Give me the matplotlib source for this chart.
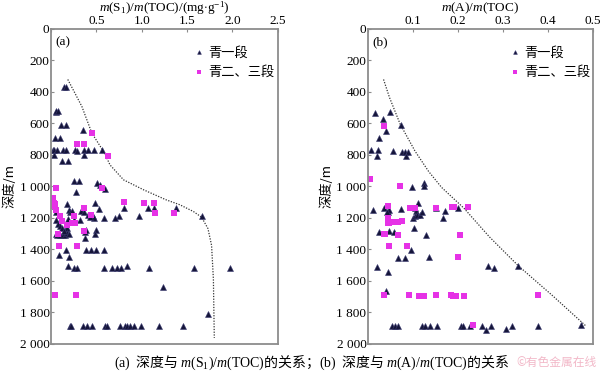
import numpy as np
import matplotlib
matplotlib.use('Agg')
import matplotlib.pyplot as plt

plt.rcParams['font.family'] = ['Liberation Serif', 'Noto Sans CJK SC']
plt.rcParams['mathtext.fontset'] = 'custom'
plt.rcParams['mathtext.rm'] = 'Liberation Serif'
plt.rcParams['mathtext.it'] = 'Liberation Serif:italic'

# (a) m(S1)/m(TOC) vs depth
a_tri_x = [0.14, 0.16, 0.05, 0.06, 0.08, 0.11, 0.17, 0.35, 0.04, 0.10,
           0.02, 0.03, 0.07, 0.13, 0.17, 0.27, 0.29, 0.36, 0.41, 0.47, 0.56,
           0.03, 0.36, 0.12, 0.19, 0.25, 0.31, 0.51, 0.54, 0.60, 0.28,
           0.18, 0.20, 0.21, 0.49, 0.80, 1.07, 1.14, 1.38, 0.04, 0.06, 0.23, 0.33,
           1.66, 0.97, 0.75, 0.70, 0.58, 0.46, 0.47, 0.41, 0.43, 0.53, 0.36, 0.19,
           0.25, 0.32, 0.06, 0.08, 0.10, 0.12, 0.17, 0.18, 0.05, 0.07, 0.10, 0.13,
           0.15, 0.18, 0.14, 0.20, 0.38, 0.39, 0.50, 0.49, 0.37,
           0.17, 0.39, 0.44, 0.50, 0.58, 0.09, 0.20, 0.19, 0.25, 0.29,
           0.58, 0.67, 0.73, 0.77, 0.84, 1.08, 1.58, 1.97, 1.23, 1.73,
           0.21, 0.22, 0.35, 0.40, 0.45, 0.60, 0.62, 0.76, 0.82, 0.84, 0.87,
           0.91, 0.99, 1.19, 1.46]
a_tri_d = [367, 367, 530, 520, 520, 612, 612, 642, 692, 692,
           770, 770, 772, 772, 772, 772, 778, 772, 772, 772, 772,
           803, 803, 840, 840, 969, 969, 980, 990, 1016, 1033,
           1113, 1150, 1160, 1104, 1135, 1135, 1135, 1135, 1128, 1165, 1155, 1155,
           1187, 1187, 1187, 1204, 1204, 1187, 1204, 1182, 1194, 1143, 1166, 1205,
           1212, 1215, 1213, 1240, 1250, 1262, 1270, 1262, 1300, 1310, 1310, 1310,
           1310, 1298, 1285, 1300, 1290, 1280, 1279, 1304, 1331,
           1407, 1407, 1407, 1407, 1407, 1439, 1449, 1507, 1520, 1520,
           1520, 1520, 1520, 1520, 1507, 1520, 1520, 1520, 1637, 1812,
           1887, 1887, 1887, 1887, 1887, 1887, 1887, 1887, 1887, 1887, 1887,
           1887, 1887, 1887, 1887]
a_sq_x = [0.45, 0.29, 0.36, 0.63, 0.06, 0.56, 0.02, 0.03, 0.03, 0.04, 0.06,
          0.80, 1.03, 1.13, 1.15, 1.36, 0.36, 0.25, 0.44, 0.10, 0.12,
          0.26, 0.23, 0.36, 0.08, 0.09, 0.29, 0.04, 0.28, 0.01, 0.18]
a_sq_d = [660, 734, 734, 809, 1012, 1012, 1075, 1105, 1125, 1115, 1150,
          1097, 1108, 1108, 1172, 1168, 1135, 1187, 1181, 1190, 1223,
          1234, 1232, 1285, 1305, 1381, 1381, 1690, 1690, 1096, 1245]
a_curve_x = [0.185, 0.34, 0.45, 0.59, 0.65, 0.80, 1.02, 1.27, 1.42, 1.57,
             1.66, 1.73, 1.77, 1.79, 1.80]
a_curve_d = [322, 493, 662, 789, 864, 959, 1022, 1086, 1117, 1160,
             1196, 1268, 1375, 1588, 1962]

# (b) m(A)/m(TOC) vs depth
b_tri_x = [0.017, 0.05, 0.034, 0.074, 0.041, 0.025, 0.007, 0.023, 0.056, 0.076,
           0.082, 0.089, 0.02, 0.085, 0.124, 0.125, 0.099,
           0.012, 0.035, 0.045, 0.048, 0.042, 0.074, 0.105, 0.112, 0.107,
           0.10, 0.105, 0.11, 0.115, 0.12, 0.103, 0.152, 0.172, 0.167, 0.2,
           0.025, 0.048, 0.059, 0.129, 0.096, 0.067, 0.083, 0.135,
           0.02, 0.044, 0.04, 0.268, 0.28, 0.334,
           0.054, 0.06, 0.068, 0.12, 0.127, 0.138, 0.153, 0.207, 0.212, 0.227,
           0.253, 0.262, 0.273, 0.307, 0.321, 0.379, 0.474]
b_tri_d = [536, 527, 570, 612, 649, 692, 770, 770, 777, 781,
           781, 781, 805, 805, 980, 995, 1005,
           1150, 1140, 1160, 1152, 1165, 1146, 1135, 1105, 1156,
           1200, 1190, 1185, 1180, 1160, 1262, 1135, 1156, 1204, 1135,
           1290, 1283, 1290, 1310, 1402, 1456, 1452, 1448,
           1513, 1541, 1667, 1507, 1520, 1507,
           1887, 1887, 1887, 1887, 1887, 1887, 1887, 1887, 1887, 1887,
           1887, 1912, 1887, 1908, 1887, 1887, 1882]
b_sq_x = [0.037, 0.005, 0.072, 0.044, 0.094, 0.105, 0.151, 0.186, 0.192, 0.223,
          0.044, 0.045, 0.053, 0.048, 0.067, 0.076, 0.038, 0.035, 0.067, 0.205,
          0.048, 0.088, 0.201, 0.035, 0.092, 0.114, 0.124, 0.151, 0.185, 0.19,
          0.195, 0.214, 0.378, 0.233]
b_sq_d = [617, 954, 1001, 1123, 1135, 1135, 1135, 1133, 1133, 1133,
          1204, 1230, 1228, 1235, 1228, 1222, 1300, 1305, 1310, 1306,
          1381, 1381, 1450, 1690, 1690, 1699, 1699, 1690, 1692, 1699,
          1699, 1699, 1690, 1880]
b_curve_x = [0.035, 0.048, 0.072, 0.105, 0.135, 0.164, 0.214, 0.27, 0.334, 0.411, 0.485]
b_curve_d = [322, 435, 606, 777, 905, 1007, 1140, 1320, 1503, 1695, 1887]

depth_ticks = [0, 200, 400, 600, 800, 1000, 1200, 1400, 1600, 1800, 2000]
depth_labels = ['0', '200', '400', '600', '800', '1 000', '1 200', '1 400',
                '1 600', '1 800', '2 000']

tri_color = '#15153a'
sq_color = '#e632e6'
frame_color = '#8c8c8c'
cjk = ['Noto Sans CJK SC', 'DejaVu Sans']

fig = plt.figure(figsize=(6.0, 3.73), dpi=100)
ax1 = fig.add_axes([0.085, 0.078, 0.378, 0.845])
ax2 = fig.add_axes([0.613, 0.078, 0.375, 0.845])


def style(ax, xmax, xticks, xlabels, xlabel, tag, legx):
    ax.set_xlim(0, xmax)
    ax.set_ylim(2000, 0)
    ax.xaxis.tick_top()
    ax.xaxis.set_label_position('top')
    ax.set_xticks(xticks)
    ax.set_xticklabels(xlabels)
    ax.set_yticks(depth_ticks)
    ax.set_yticklabels(depth_labels)
    ax.tick_params(axis='both', direction='in', length=2, color=frame_color,
                   labelsize=9.5, pad=1)
    for s in ax.spines.values():
        s.set_color(frame_color)
        s.set_linewidth(1.3)
    ax.set_xlabel(xlabel, fontsize=9.5, labelpad=3)
    ax.text(0.02, 0.975, tag, transform=ax.transAxes, fontsize=9.5,
            va='top', ha='left')
    ax.legend(loc='upper left', bbox_to_anchor=(legx, 0.96),
              frameon=False, prop={'family': cjk, 'size': 9.5},
              markerscale=0.6, handletextpad=0.2, labelspacing=0.5,
              handlelength=1.0, borderaxespad=0)


for ax, tx, td, sx, sd, cx, cd in [
        (ax1, a_tri_x, a_tri_d, a_sq_x, a_sq_d, a_curve_x, a_curve_d),
        (ax2, b_tri_x, b_tri_d, b_sq_x, b_sq_d, b_curve_x, b_curve_d)]:
    ax.plot(cx, cd, linestyle=(0, (1, 1.2)), color='#333333', linewidth=0.9)
    ax.plot(tx, td, '^', color=tri_color, markersize=4.5, markeredgewidth=0.4,
            markeredgecolor='#3a3a70', linestyle='none', label='青一段')
    ax.plot(sx, sd, 's', color=sq_color, markersize=3.8, markeredgewidth=0,
            linestyle='none', label='青二、三段')

style(ax1, 2.5, [0, 0.5, 1.0, 1.5, 2.0, 2.5], ['', '0.5', '1.0', '1.5', '2.0', '2.5'],
      r'$m$(S$_1$)/$m$(TOC)/(mg$\cdot$g$^{-1}$)', '(a)', 0.6)
style(ax2, 0.5, [0, 0.1, 0.2, 0.3, 0.4, 0.5], ['', '0.1', '0.2', '0.3', '0.4', '0.5'],
      r'$m$(A)/$m$(TOC)', '(b)', 0.6)

ax1.set_ylabel('深度/m', family=cjk, fontsize=9.5, labelpad=2)
ax2.set_ylabel('深度/m', family=cjk, fontsize=9.5, labelpad=2)

fig.text(0.52, 0.028,
         r'$\mathrm{(a)}$  深度与 $m\mathrm{(S_1)/}m\mathrm{(TOC)}$的关系；'
         r'$\mathrm{(b)}$  深度与 $m\mathrm{(A)/}m\mathrm{(TOC)}$的关系',
         family='Noto Sans CJK SC', fontsize=10, ha='center', va='center')
fig.text(0.995, 0.028, '©有色金属在线', family=cjk, fontsize=8.5,
         color='#f2b8c8', ha='right', va='center')

fig.savefig('out.png', dpi=100)
